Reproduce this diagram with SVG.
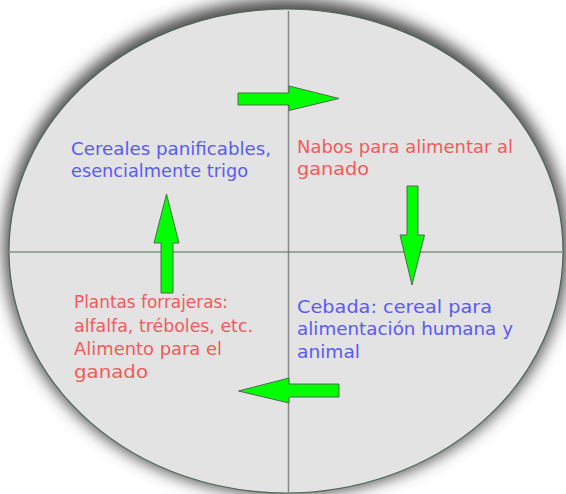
<svg xmlns="http://www.w3.org/2000/svg" width="566" height="494" viewBox="0 0 566 494">
  <defs>
    <filter id="shadow" x="-10%" y="-10%" width="120%" height="120%">
      <feGaussianBlur stdDeviation="8"/>
    </filter>
    <style>
      .lbl { font-family: "DejaVu Sans", "Liberation Sans", sans-serif; font-size: 17.5px; }
      .blue { fill: #5a5af2; }
      .red { fill: #f25a5a; }
      .arrow { fill: #00ff00; stroke: #4d6a4d; stroke-width: 1; stroke-linejoin: miter; }
    </style>
  </defs>
  <rect x="0" y="0" width="566" height="494" fill="#ffffff"/>
  <g id="background">
    <ellipse cx="286" cy="247" rx="282" ry="248" fill="#4a4a4a" filter="url(#shadow)"/>
    <ellipse cx="286" cy="251" rx="277" ry="242" fill="#e3e3e3" stroke="#4f6656" stroke-width="1.2"/>
  </g>
  <g id="connectors">
    <line x1="288.5" y1="11" x2="288.5" y2="494" stroke="#888888" stroke-width="1.5"/>
    <line x1="10" y1="252" x2="562" y2="252" stroke="#4a6a50" stroke-width="1.2"/>
    <polygon class="arrow" points="238,93 289,93 289,86 339,98.5 289,110.5 289,105 238,105"/>
    <polygon class="arrow" points="407,186 418,186 418,235 424.5,235 412,285 400,235 407,235"/>
    <polygon class="arrow" points="161,293 173,293 173,243 179,243 166.5,194 154,243 161,243"/>
    <polygon class="arrow" points="339,384 289,384 289,378 238.5,391 289,403 289,397 339,397"/>
  </g>
  <g id="node-cereales">
    <text class="lbl blue" x="71" y="155" textLength="200" lengthAdjust="spacingAndGlyphs">Cereales panificables,</text>
    <text class="lbl blue" x="71" y="177" textLength="177" lengthAdjust="spacingAndGlyphs">esencialmente trigo</text>
  </g>
  <g id="node-nabos">
    <text class="lbl red" x="297" y="153" textLength="216" lengthAdjust="spacingAndGlyphs">Nabos para alimentar al</text>
    <text class="lbl red" x="297" y="175" textLength="72" lengthAdjust="spacingAndGlyphs">ganado</text>
  </g>
  <g id="node-cebada">
    <text class="lbl blue" x="297" y="313" textLength="195" lengthAdjust="spacingAndGlyphs">Cebada: cereal para</text>
    <text class="lbl blue" x="297" y="335" textLength="216" lengthAdjust="spacingAndGlyphs">alimentación humana y</text>
    <text class="lbl blue" x="297" y="358" textLength="63" lengthAdjust="spacingAndGlyphs">animal</text>
  </g>
  <g id="node-plantas">
    <text class="lbl red" x="74" y="308" textLength="154" lengthAdjust="spacingAndGlyphs">Plantas forrajeras:</text>
    <text class="lbl red" x="74" y="332" textLength="179" lengthAdjust="spacingAndGlyphs">alfalfa, tréboles, etc.</text>
    <text class="lbl red" x="74" y="355" textLength="148" lengthAdjust="spacingAndGlyphs">Alimento para el</text>
    <text class="lbl red" x="74" y="378" textLength="74" lengthAdjust="spacingAndGlyphs">ganado</text>
  </g>
</svg>
